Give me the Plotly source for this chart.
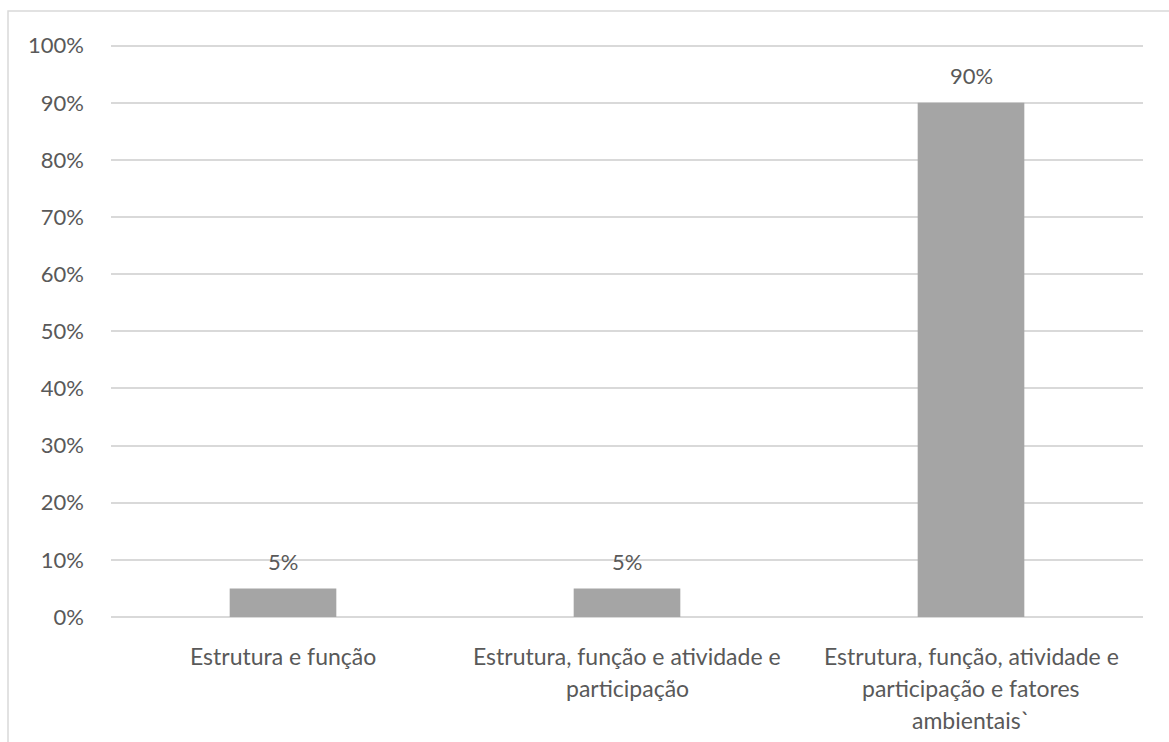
import plotly.graph_objects as go

categories = ["Estrutura e função",
              "Estrutura, função e atividade e participação",
              "Estrutura, função, atividade e participação e fatores ambientais`"]
label_lines = [["Estrutura e função"],
               ["Estrutura, função e atividade e", "participação"],
               ["Estrutura, função, atividade e", "participação e fatores", "ambientais`"]]
values = [0.05, 0.05, 0.90]
value_labels = ["5%", "5%", "90%"]
y_ticks = [i / 10 for i in range(11)]

FONT = "Lato, Calibri, Carlito, sans-serif"
TXT = "#595959"
GRID = "#d9d9d9"
FS = 22
FS_CAT = 23

fig = go.Figure()
fig.add_trace(go.Bar(x=categories, y=values, marker=dict(color="#a5a5a5", line=dict(width=0)),
                     hoverinfo="skip"))

annotations = []
for c, v, t in zip(categories, values, value_labels):
    annotations.append(dict(x=c, y=v, xref="x", yref="y", text=t, showarrow=False,
                            yanchor="middle", yshift=27, font=dict(family=FONT, size=FS, color=TXT)))
for c, lines in zip(categories, label_lines):
    for i, ln in enumerate(lines):
        annotations.append(dict(x=c, y=0, xref="x", yref="y", text=ln, showarrow=False,
                                yanchor="middle", yshift=-(39 + 32 * i),
                                font=dict(family=FONT, size=FS_CAT, color=TXT)))

fig.update_layout(
    width=1169, height=742,
    margin=dict(l=111, r=26, t=44, b=125),
    paper_bgcolor="white", plot_bgcolor="white",
    bargap=0.69,
    showlegend=False,
    annotations=annotations,
    shapes=[dict(type="rect", xref="paper", yref="paper", x0=-0.0998, x1=1.2,
                 y0=-0.4, y1=1.0578, line=dict(color=GRID, width=1.5), layer="below")],
    xaxis=dict(showticklabels=False, showgrid=False, zeroline=False, showline=False, ticks=""),
    yaxis=dict(range=[0, 1.003], tickvals=y_ticks, tickformat=".0%", showgrid=True, gridcolor=GRID,
               gridwidth=1.5, zeroline=True, zerolinecolor=GRID, zerolinewidth=1.5,
               showline=False, ticks="", ticklabelstandoff=26,
               tickfont=dict(family=FONT, size=FS, color=TXT)),
)

fig.write_html("out.html")
